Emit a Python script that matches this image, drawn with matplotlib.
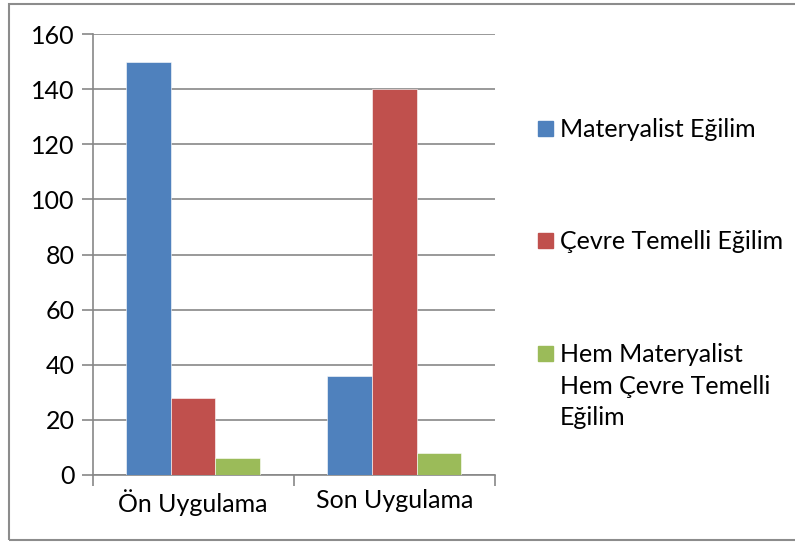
import numpy as np
import matplotlib.pyplot as plt
from matplotlib.patches import Rectangle

plt.rcParams['font.family'] = ['Lato', 'DejaVu Sans']

categories = ['Ön Uygulama', 'Son Uygulama']
series_names = ['Materyalist Eğilim', 'Çevre Temelli Eğilim',
                'Hem Materyalist\nHem Çevre Temelli\nEğilim']
materyalist = [150, 36]
cevre = [28, 140]
hem = [6, 8]
colors = ['#4f81bd', '#c0504d', '#9bbb59']

fs = 18

fig = plt.figure(figsize=(7.95, 5.42), dpi=100)
# outer chart border (right side runs off the image)
fig.patches.append(Rectangle((9 / 795, 2 / 542), 1.0, 536 / 542,
                             transform=fig.transFigure, fill=False,
                             edgecolor='#8c8c8c', linewidth=1.5))

ax = fig.add_axes([92.5 / 795, 1 - 475 / 542, (495 - 92.5) / 795, (475 - 34) / 542])

x = np.arange(len(categories))
w = 0.222
for i, vals in enumerate([materyalist, cevre, hem]):
    ax.bar(x + (i - 1) * w, vals, w, color=colors[i], label=series_names[i],
           edgecolor='white', linewidth=0.4, zorder=3)

ax.set_xlim(-0.5, 1.5)
ax.set_ylim(0, 160)
ax.set_yticks(range(0, 161, 20))
ax.yaxis.grid(True, color='#878787', linewidth=1.2, zorder=0)
ax.tick_params(axis='y', labelsize=fs, length=8, width=1.2, color='#878787', pad=5)

ax.set_xticks([-0.5, 0.5, 1.5])
ax.set_xticklabels([])
ax.set_xticks(x, minor=True)
ax.set_xticklabels(categories, minor=True)
ax.tick_params(axis='x', which='major', length=8, width=1.2, color='#878787')
ax.tick_params(axis='x', which='minor', length=0, labelsize=fs, pad=10)

for s in ['top', 'right']:
    ax.spines[s].set_visible(False)
for s in ['left', 'bottom']:
    ax.spines[s].set_color('#878787')
    ax.spines[s].set_linewidth(1.2)

# legend drawn by hand so the marker sits on the first line of each label
leg_y = [128, 240, 353]
for name, c, yy in zip(series_names, colors, leg_y):
    fig.patches.append(Rectangle((538 / 795, 1 - (yy + 7.5) / 542), 15 / 795, 15 / 542,
                                 transform=fig.transFigure, color=c))
    fig.text(560 / 795, 1 - (yy - 10) / 542, name, fontsize=fs, va='top', ha='left',
             linespacing=1.45)

fig.savefig('out.png', dpi=100)
